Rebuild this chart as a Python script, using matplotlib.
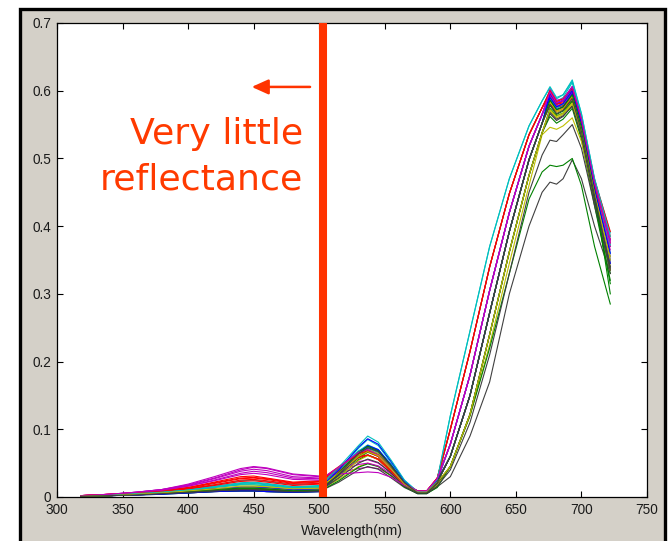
import matplotlib
matplotlib.use("Agg")
import matplotlib.pyplot as plt
from matplotlib.patches import Rectangle

# wavelength grid (nm)
wavelength = [318, 340, 360, 380, 400, 420, 440, 450, 460, 480, 500, 515, 530, 537, 545, 555, 565,
              575, 582, 590, 600, 615, 630, 645, 660, 670, 676, 681, 686, 693, 700, 710, 722]

# reflectance spectra, in thousandths
s01 = [1,2,4,6,8,10,12,12,11,9,10,35,62,70,64,42,19,7,7,24,78,180,305,420,518,565,590,572,576,592,540,445,345]
s02 = [1,3,5,7,9,12,14,14,13,10,11,33,58,66,60,40,18,6,7,22,60,150,272,392,498,552,578,565,570,585,535,440,330]
s03 = [2,4,6,9,14,22,30,31,28,22,24,45,66,70,62,42,20,9,9,28,100,215,340,448,535,575,596,580,582,600,552,460,370]
s04 = [1,3,5,8,12,18,24,25,23,18,20,42,68,74,66,44,21,8,8,26,78,180,305,420,518,565,588,574,578,594,546,452,360]
s05 = [2,4,7,11,18,28,40,44,42,33,30,36,42,44,42,32,18,9,9,27,78,180,305,420,518,565,592,578,580,598,548,455,365]
s06 = [1,3,5,7,10,14,18,18,16,13,15,38,64,72,66,45,21,8,8,24,60,150,272,392,498,552,582,568,572,588,540,448,340]
s07 = [1,2,4,5,7,9,10,10,9,8,9,30,55,62,56,38,17,6,6,18,45,122,240,362,475,538,566,556,562,578,532,438,335]
s08 = [1,2,3,5,6,8,9,9,8,7,8,32,62,72,67,45,20,6,6,22,60,150,272,392,498,552,594,580,586,606,553,455,350]
s09 = [1,2,4,6,8,11,13,13,12,9,10,30,55,62,56,37,17,6,6,19,45,122,240,362,475,538,562,552,558,574,528,430,320]
s10 = [2,3,5,8,12,18,25,26,24,19,20,40,62,67,60,40,19,8,8,26,100,215,340,448,535,575,592,576,578,594,546,456,375]
s11 = [1,3,5,7,10,15,19,20,18,14,15,40,68,77,70,47,22,8,8,25,100,215,340,448,535,575,600,584,590,612,560,465,380]
s12 = [2,4,6,10,16,25,35,38,36,28,27,40,52,55,50,36,19,9,9,27,78,180,305,420,518,565,594,578,580,598,550,460,370]
s13 = [1,2,4,6,8,10,12,12,11,9,10,26,45,50,45,31,15,6,6,17,45,120,225,345,460,535,546,543,548,560,525,440,345]
s14 = [1,2,3,5,6,8,9,9,8,7,8,22,40,45,41,28,14,5,5,15,30,90,170,300,400,450,465,462,470,498,470,400,330]
s15 = [1,2,4,6,8,11,14,14,13,10,11,36,66,75,69,47,22,7,7,23,60,150,272,392,498,552,586,572,576,596,548,452,355]
s16 = [1,2,3,4,6,8,9,9,8,7,8,24,44,49,45,31,15,5,5,14,45,120,220,330,440,480,490,488,490,500,460,370,285]
s17 = [2,4,6,9,13,20,27,28,26,20,22,42,60,62,55,37,18,8,8,27,100,215,340,448,535,575,597,580,584,602,556,465,385]
s18 = [1,3,5,8,11,16,21,22,20,15,17,40,66,73,66,44,21,8,8,25,78,180,305,420,518,565,590,576,580,604,556,460,372]
s19 = [2,4,7,11,17,27,38,41,39,30,28,38,48,50,46,34,18,8,8,26,78,180,305,420,518,565,596,582,585,604,555,462,375]
s20 = [1,2,4,6,8,11,14,14,13,10,11,30,54,61,56,38,17,6,6,19,45,122,240,362,475,538,570,560,565,580,534,440,335]
s21 = [1,2,3,5,7,9,10,10,9,8,9,28,50,56,51,35,16,5,5,16,40,110,210,330,450,505,527,525,535,550,515,430,335]
s22 = [1,2,3,4,6,8,9,9,8,7,8,33,65,76,70,47,21,6,6,22,60,150,272,392,498,552,590,576,581,600,550,452,345]
s23 = [1,2,4,6,8,10,12,12,11,9,10,33,60,68,62,42,19,6,6,21,45,122,240,362,475,538,574,563,567,584,538,440,315]
s24 = [2,3,5,8,12,17,23,24,22,17,19,38,58,62,56,38,18,8,8,25,60,150,272,392,498,552,580,570,574,590,546,460,380]
s25 = [1,2,4,7,10,14,18,18,17,13,14,40,72,85,76,50,23,7,7,24,120,245,370,470,548,585,604,588,594,616,566,470,390]
s26 = [2,4,7,11,19,30,42,45,43,34,31,34,36,37,36,29,17,9,9,28,78,180,305,420,518,565,602,586,588,606,558,465,380]
s27 = [1,2,4,6,8,11,14,15,14,11,12,36,62,70,64,44,20,7,7,22,60,150,272,392,498,552,584,570,574,592,545,450,355]
s28 = [1,2,4,5,7,9,11,11,10,8,9,33,60,68,62,42,19,6,6,20,45,122,240,362,475,538,568,558,563,577,533,438,340]
s29 = [1,2,4,6,9,12,15,15,14,11,12,40,74,86,78,52,24,7,7,24,60,150,272,392,498,552,596,582,586,604,553,455,360]
s30 = [1,2,4,6,8,11,13,13,12,9,10,36,66,75,68,46,21,6,6,22,60,150,272,392,498,552,586,572,576,594,546,450,300]
s31 = [2,4,6,9,14,21,28,29,27,21,23,44,64,68,60,41,20,9,9,28,100,215,340,448,535,575,600,584,588,604,558,468,392]
s32 = [1,3,5,7,10,15,20,21,19,15,16,44,76,90,81,54,25,8,8,26,120,245,370,470,548,585,606,590,594,614,566,470,385]
s33 = [2,4,7,10,16,24,33,35,33,26,25,44,66,70,62,41,20,9,9,27,78,180,305,420,518,565,598,582,586,606,558,464,378]
s34 = [1,2,4,6,9,12,16,16,15,12,13,35,60,67,61,41,19,7,7,22,45,122,240,362,475,538,572,562,567,582,540,448,350]
s35 = [1,2,3,5,7,9,11,11,10,8,9,34,64,73,67,45,21,6,6,21,60,150,272,392,498,552,580,566,571,588,540,445,338]

series = [s01, s02, s03, s04, s05, s06, s07, s08, s09, s10, s11, s12, s13, s14, s15, s16, s17, s18,
          s19, s20, s21, s22, s23, s24, s25, s26, s27, s28, s29, s30, s31, s32, s33, s34, s35]

matlab_colors = [(0, 0, 1), (0, 0.5, 0), (1, 0, 0), (0, 0.75, 0.75),
                 (0.75, 0, 0.75), (0.75, 0.75, 0), (0.25, 0.25, 0.25)]

x_ticks = [300, 350, 400, 450, 500, 550, 600, 650, 700, 750]
y_ticks = [0, 0.1, 0.2, 0.3, 0.4, 0.5, 0.6, 0.7]
y_ticklabels = ["0", "0.1", "0.2", "0.3", "0.4", "0.5", "0.6", "0.7"]

W, H = 668, 541
fig = plt.figure(figsize=(W / 100, H / 100), dpi=100)
fig.patch.set_facecolor("white")

# gray window panel with black frame (drawn behind the axes)
panel = Rectangle((19.5 / W, -0.02), (665 - 19.5) / W, (H - 9) / H + 0.02,
                  transform=fig.transFigure, facecolor="#d4d0c8",
                  edgecolor="black", linewidth=2.4, zorder=-10)
fig.patches.append(panel)

ax = fig.add_axes([57 / W, (H - 497) / H, (647 - 57) / W, (497 - 23) / H])
ax.set_zorder(1)
ax.set_facecolor("white")

for i, s in enumerate(series):
    ax.plot(wavelength, [v / 1000 for v in s], color=matlab_colors[i % 7], lw=0.8)

red = "#ff3300"
ax.axvline(503, color=red, lw=5.8, zorder=5)
ax.annotate("", xy=(448.5, 0.6056), xytext=(493, 0.6056),
            arrowprops=dict(arrowstyle="-|>,head_length=1.0,head_width=0.45",
                            color=red, lw=1.8, shrinkA=0, shrinkB=0), zorder=6)
ax.text(488, 0.522, "Very little", color="#ff3a00", fontsize=26.2,
        family="DejaVu Sans", ha="right", va="baseline")
ax.text(488, 0.4545, "reflectance", color="#ff3a00", fontsize=26.2,
        family="DejaVu Sans", ha="right", va="baseline")

ax.set_xlim(300, 750)
ax.set_ylim(0, 0.7)
ax.set_xticks(x_ticks)
ax.set_yticks(y_ticks)
ax.set_yticklabels(y_ticklabels)
ax.tick_params(direction="in", length=4, width=0.8, top=True, right=True,
               labelsize=9.8, pad=4, colors="black")
for lab in ax.get_xticklabels() + ax.get_yticklabels():
    lab.set_family("Liberation Sans")
    lab.set_color("#1a1a1a")
for sp in ax.spines.values():
    sp.set_linewidth(0.9)
    sp.set_color("black")
ax.set_xlabel("Wavelength(nm)", family="Liberation Sans", fontsize=10,
              color="#1a1a1a", labelpad=5.5)

fig.savefig("out.png", dpi=100, facecolor=fig.get_facecolor())
